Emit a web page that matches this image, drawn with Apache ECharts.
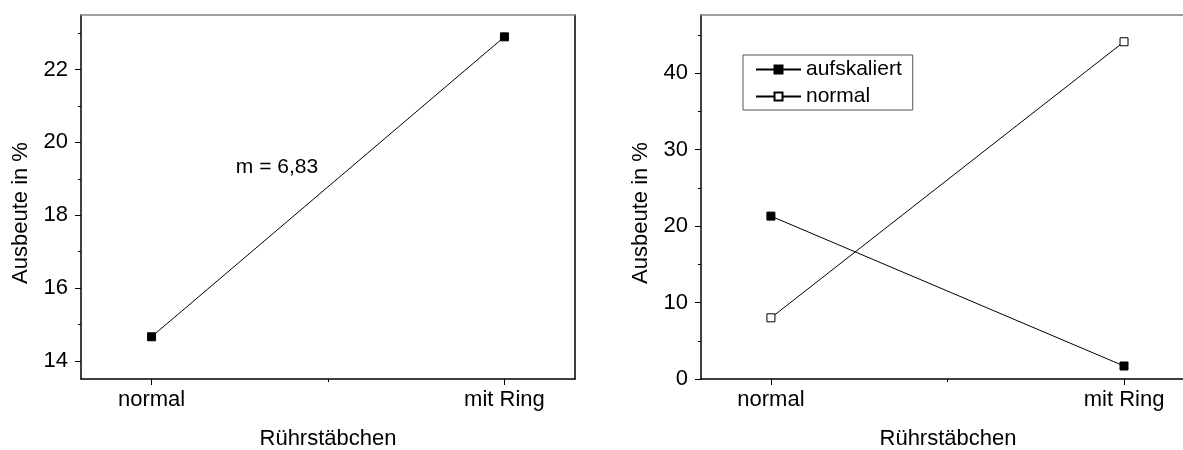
<!DOCTYPE html>
<html>
<head>
<meta charset="utf-8">
<script src="https://cdn.jsdelivr.net/npm/echarts@6/dist/echarts.min.js"></script>
<style>
html,body{margin:0;padding:0;background:#fff;}
#main{width:1183px;height:450px;}
</style>
</head>
<body>
<div id="main"></div>
<script>
// ---- data ----
const categories = ['normal', 'mit Ring'];
const leftValues = [14.66, 22.9];
const aufskaliertValues = [21.3, 1.7];
const normalValues = [8.0, 44.1];
const leftMajorTicks = [14, 16, 18, 20, 22];
const leftMinorTicks = [15, 17, 19, 21, 23];
const rightMajorTicks = [0, 10, 20, 30, 40];
const rightMinorTicks = [5, 15, 25, 35, 45];
const xMajorTicks = [0, 1];
const xMinorTicks = [0.5];
const yTitle = 'Ausbeute in %';
const xTitle = 'Rührstäbchen';
const annotation = 'm = 6,83';
const legendNames = ['aufskaliert', 'normal'];

const FONT = "'Liberation Sans', Arial, sans-serif";
const chart = echarts.init(document.getElementById('main'), null, {renderer: 'canvas'});

const leftRange = [13.5, 23.5];
const rightRange = [0, 47.6];
const xRangeLeft = [-0.2, 1.2];
const xRangeRight = [-0.198, 1.167]; // right panel is cut off by the image edge

function toPairs(vals) { return vals.map((v, i) => [i, v]); }

function xAxes(gi, xr) {
  return [
    { // main bottom
      type: 'value', gridIndex: gi, position: 'bottom', min: xr[0], max: xr[1],
      axisLine: {show: true, onZero: false, lineStyle: {color: '#000', width: 1.5}},
      axisTick: {show: true, inside: false, length: 6, customValues: xMajorTicks, lineStyle: {color: '#000', width: 1}},
      axisLabel: {show: true, margin: 10, customValues: xMajorTicks, color: '#000', fontSize: 22, fontFamily: FONT,
        formatter: v => categories[Math.round(v)] || ''},
      splitLine: {show: false}
    },
    { // minor bottom
      type: 'value', gridIndex: gi, position: 'bottom', min: xr[0], max: xr[1],
      axisLine: {show: false, onZero: false},
      axisTick: {show: true, length: 3, customValues: xMinorTicks, lineStyle: {color: '#000', width: 1}},
      axisLabel: {show: false}, splitLine: {show: false}
    },
    { // top frame
      type: 'value', gridIndex: gi, position: 'top', min: xr[0], max: xr[1],
      axisLine: {show: true, onZero: false, lineStyle: {color: '#808080', width: 1.5}},
      axisTick: {show: false}, axisLabel: {show: false}, splitLine: {show: false}
    }
  ];
}

function yAxes(gi, range, major, minor, rightFrame) {
  const arr = [
    {
      type: 'value', gridIndex: gi, position: 'left', min: range[0], max: range[1],
      axisLine: {show: true, onZero: false, lineStyle: {color: '#000', width: 1.5}},
      axisTick: {show: true, length: 6, customValues: major, lineStyle: {color: '#000', width: 1}},
      axisLabel: {show: true, margin: 13, customValues: major, color: '#000', fontSize: 22, fontFamily: FONT},
      splitLine: {show: false}
    },
    {
      type: 'value', gridIndex: gi, position: 'left', min: range[0], max: range[1],
      axisLine: {show: false, onZero: false},
      axisTick: {show: true, length: 3, customValues: minor, lineStyle: {color: '#000', width: 1}},
      axisLabel: {show: false}, splitLine: {show: false}
    }
  ];
  if (rightFrame) {
    arr.push({
      type: 'value', gridIndex: gi, position: 'right', min: range[0], max: range[1],
      axisLine: {show: true, onZero: false, lineStyle: {color: '#000', width: 1.5}},
      axisTick: {show: false}, axisLabel: {show: false}, splitLine: {show: false}
    });
  }
  return arr;
}

const xs = xAxes(0, xRangeLeft).concat(xAxes(1, xRangeRight));
const ys = yAxes(0, leftRange, leftMajorTicks, leftMinorTicks, true)
  .concat(yAxes(1, rightRange, rightMajorTicks, rightMinorTicks, false));
// indices: grid0 x:0,1,2 ; grid1 x:3,4,5 ; grid0 y:0,1,2 ; grid1 y:3,4

const option = {
  animation: false,
  backgroundColor: '#fff',
  textStyle: {fontFamily: FONT},
  grid: [
    {left: 81, top: 15, width: 494, height: 364},
    {left: 701, top: 15, right: 0, height: 364}
  ],
  xAxis: xs,
  yAxis: ys,
  legend: {
    data: legendNames,
    orient: 'vertical',
    left: 743, top: 55,
    padding: [4, 11, 3, 12],
    itemGap: 6,
    itemWidth: 45,
    itemHeight: 10,
    borderColor: '#555',
    borderWidth: 1,
    borderRadius: 0,
    textStyle: {color: '#000', fontSize: 21, fontFamily: FONT, padding: [0, 0, 0, 0]}
  },
  graphic: [
    {type: 'text', x: 21, y: 213, rotation: Math.PI / 2,
      style: {text: yTitle, fill: '#000', font: '22px ' + FONT, align: 'center', verticalAlign: 'middle'}},
    {type: 'text', x: 641, y: 213, rotation: Math.PI / 2,
      style: {text: yTitle, fill: '#000', font: '22px ' + FONT, align: 'center', verticalAlign: 'middle'}},
    {type: 'text', x: 328, y: 439,
      style: {text: xTitle, fill: '#000', font: '22px ' + FONT, align: 'center', verticalAlign: 'middle'}},
    {type: 'text', x: 948, y: 439,
      style: {text: xTitle, fill: '#000', font: '22px ' + FONT, align: 'center', verticalAlign: 'middle'}},
    {type: 'text', x: 277, y: 167,
      style: {text: annotation, fill: '#000', font: '21px ' + FONT, align: 'center', verticalAlign: 'middle'}}
  ],
  series: [
    {
      name: 'Ausbeute', type: 'line', xAxisIndex: 0, yAxisIndex: 0,
      data: toPairs(leftValues),
      symbol: 'rect', symbolSize: 8,
      lineStyle: {color: '#000', width: 1},
      itemStyle: {color: '#000', borderColor: '#000', borderWidth: 1}
    },
    {
      name: legendNames[0], type: 'line', xAxisIndex: 3, yAxisIndex: 3,
      data: toPairs(aufskaliertValues),
      symbol: 'rect', symbolSize: 8,
      lineStyle: {color: '#000', width: 1},
      itemStyle: {color: '#000', borderColor: '#000', borderWidth: 1}
    },
    {
      name: legendNames[1], type: 'line', xAxisIndex: 3, yAxisIndex: 3,
      data: toPairs(normalValues),
      symbol: 'rect', symbolSize: 8,
      lineStyle: {color: '#000', width: 1},
      itemStyle: {color: '#fff', borderColor: '#000', borderWidth: 1}
    }
  ]
};
chart.setOption(option);
</script>
</body>
</html>
